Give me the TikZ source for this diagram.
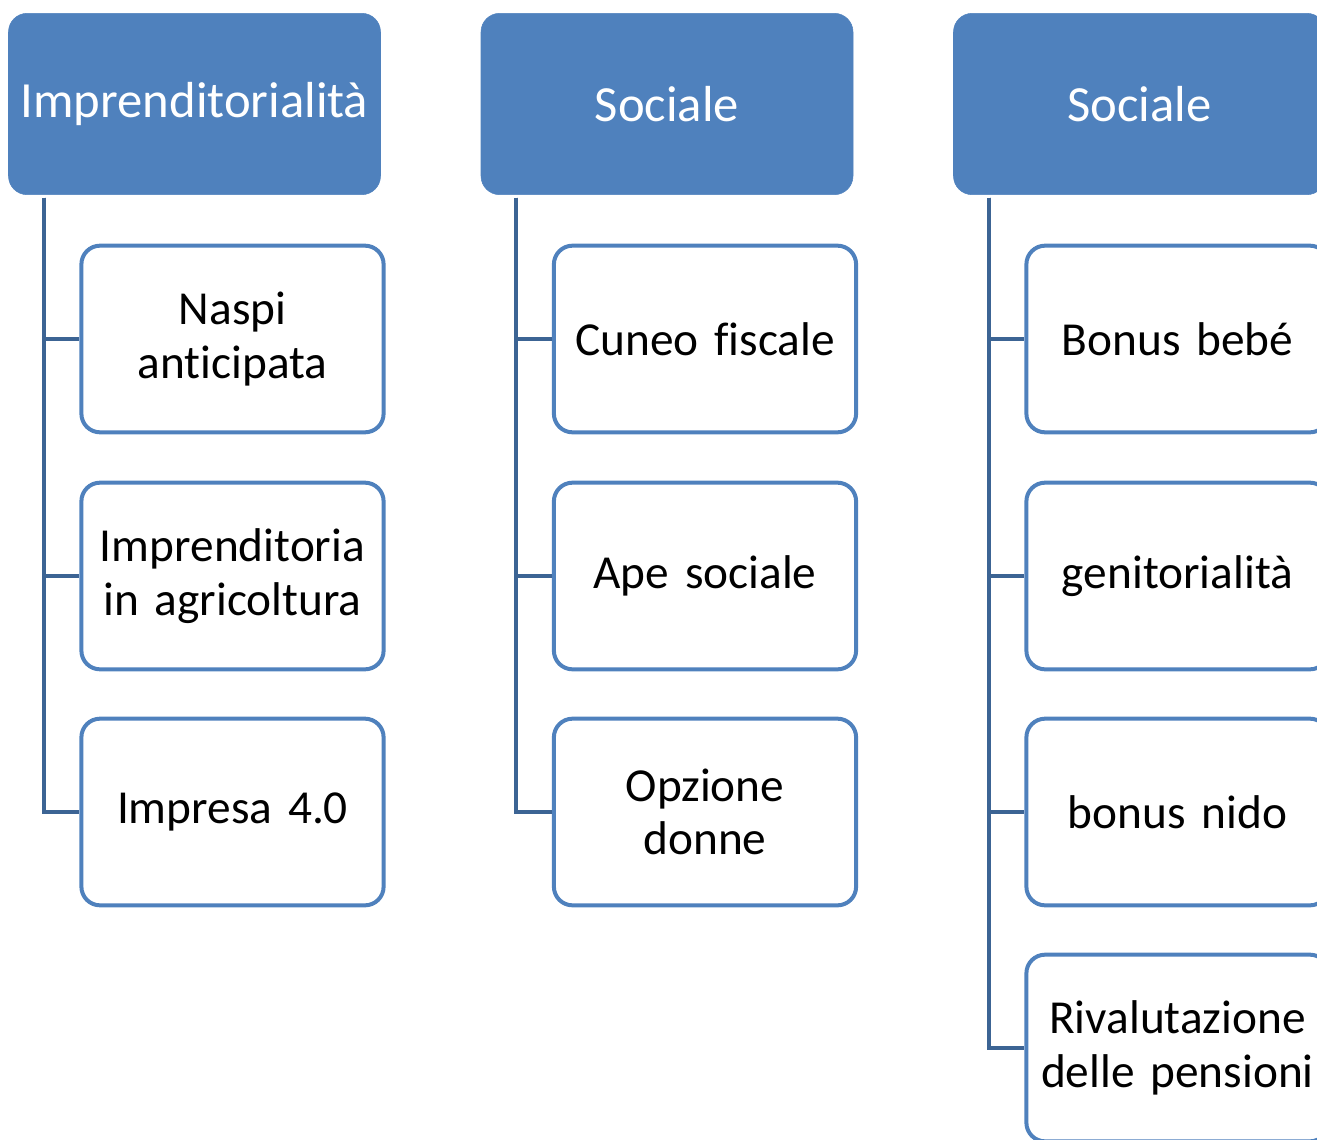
\documentclass[tikz,border=0pt]{standalone}
\usepackage{fontspec}
\setmainfont[Ligatures={TeX,NoCommon}, WordSpace=0.8]{Carlito}
\usepackage{tikz}
\usetikzlibrary{positioning}
\definecolor{boxblue}{HTML}{4F81BD}
\definecolor{linkblue}{HTML}{3C6494}
\tikzset{
  head/.style={rectangle, rounded corners=14pt, fill=boxblue, draw=boxblue, text=white,
    minimum width=279pt, minimum height=136pt, font=\fontsize{38}{40}\selectfont},
  item/.style={rectangle, rounded corners=14pt, draw=boxblue, line width=3pt, fill=white,
    minimum width=226pt, minimum height=140pt, align=center, text width=220pt,
    font=\fontsize{35.5}{40}\selectfont},
  link/.style={draw=linkblue, line width=3pt}
}
\begin{document}
\begin{tikzpicture}[x=0.75pt, y=-0.75pt]
% page size in pixels
\useasboundingbox (0,0) rectangle (1317,1139);
\pgfmathsetmacro{\dx}{472.5}

% Headers
\node[head] (h1) at (194.5,104) {Imprenditorialità};
\node[head] (h2) at (194.5+\dx,104) {Sociale};
\node[head] (h3) at (194.5+2*\dx,104) {Sociale};

% First column
\node[item] (a1) at (232.5,339) {Naspi\\anticipata};
\node[item] (a2) at (232.5,576) {Imprenditoria\\in agricoltura};
\node[item] (a3) at (232.5,812) {Impresa 4.0};
% Second column
\node[item] (b1) at (232.5+\dx,339) {Cuneo fiscale};
\node[item] (b2) at (232.5+\dx,576) {Ape sociale};
\node[item] (b3) at (232.5+\dx,812) {Opzione\\donne};
% Third column
\node[item] (c1) at (232.5+2*\dx,339) {Bonus bebé};
\node[item] (c2) at (232.5+2*\dx,576) {genitorialità};
\node[item] (c3) at (232.5+2*\dx,812) {bonus nido};
\node[item] (c4) at (232.5+2*\dx,1048) {Rivalutazione\\delle pensioni};

% Connectors
\foreach \h/\c in {h1/a1, h1/a2, h1/a3, h2/b1, h2/b2, h2/b3, h3/c1, h3/c2, h3/c3, h3/c4}
  \draw[link] ([xshift=26.5pt, yshift=-2pt]\h.south west) |- (\c.west);
\end{tikzpicture}
\end{document}
